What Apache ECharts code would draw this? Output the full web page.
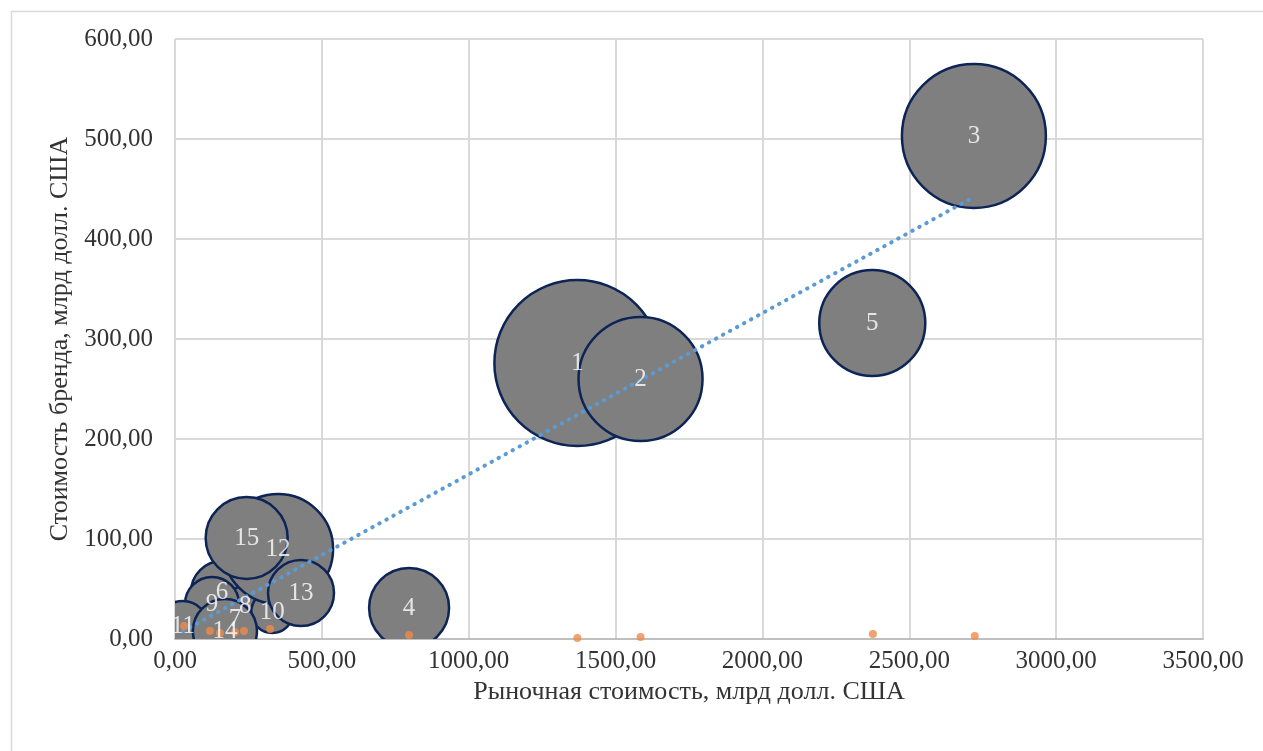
<!DOCTYPE html>
<html>
<head>
<meta charset="utf-8">
<script src="https://cdn.jsdelivr.net/npm/echarts@6/dist/echarts.min.js"></script>
<style>
html,body{margin:0;padding:0;background:#fff;}
#chart{width:1263px;height:751px;}
</style>
</head>
<body>
<div id="chart"></div>
<script>
// ---- Data ----
const bubbleNames = ['1','2','3','4','5','6','7','8','9','10','11','12','13','14','15'];
const marketValue = [1370, 1585, 2720, 797, 2374, 160, 204, 239, 126, 331, 27, 351, 429, 170, 244];
const brandValue  = [276, 260, 503, 31, 316, 47, 20, 33, 35, 27, 13, 90, 46, 8, 101];
const bubbleSize  = [100, 55.8, 75.2, 23.2, 40.8, 13.9, 7.0, 5.8, 10.6, 6.4, 9.1, 43.9, 15.8, 14.9, 24.4];

const orangeX = [31, 119, 153, 204, 235, 324, 797, 1370, 1585, 2376, 2723];
const orangeY = [13, 8, 6, 7, 8, 10, 4, 1, 2, 5, 3];

const trendX = [27, 2720];
const trendY = [7.7, 442];

const xTicks = {min: 0, max: 3500, interval: 500};
const yTicks = {min: 0, max: 600, interval: 100};
const xTitle = 'Рыночная стоимость, млрд долл. США';
const yTitle = 'Стоимость бренда, млрд долл. США';

// ---- Build chart ----
const FONT = "'Liberation Serif', 'Times New Roman', serif";
const TEXT_COLOR = '#333333';
const MAX_DIAM = 166;
const maxSize = Math.max.apply(null, bubbleSize);

const bubbleData = marketValue.map((x, i) => [x, brandValue[i], bubbleSize[i], bubbleNames[i]]);
const orangeData = orangeX.map((x, i) => [x, orangeY[i]]);
const trendData = trendX.map((x, i) => [x, trendY[i]]);

const fmt = v => Number(v).toFixed(2).replace('.', ',');

const chart = echarts.init(document.getElementById('chart'), null, {renderer: 'canvas'});
chart.setOption({
  animation: false,
  backgroundColor: '#ffffff',
  graphic: [{
    type: 'rect', left: 9, top: 9, z: -10, silent: true,
    shape: {width: 1320, height: 820},
    style: {fill: 'none', stroke: '#d9d9d9', lineWidth: 1.5}
  }],
  grid: {left: 175, right: 60, top: 39, bottom: 112, containLabel: false},
  xAxis: {
    type: 'value', min: xTicks.min, max: xTicks.max, interval: xTicks.interval,
    name: xTitle, nameLocation: 'middle', nameGap: 40,
    nameTextStyle: {fontFamily: FONT, fontSize: 26, color: TEXT_COLOR},
    axisLine: {show: true, lineStyle: {color: '#bfbfbf', width: 2}},
    axisTick: {show: false},
    axisLabel: {formatter: fmt, fontFamily: FONT, fontSize: 25, color: TEXT_COLOR, margin: 10},
    splitLine: {show: true, lineStyle: {color: '#d9d9d9', width: 2}}
  },
  yAxis: {
    type: 'value', min: yTicks.min, max: yTicks.max, interval: yTicks.interval,
    name: yTitle, nameLocation: 'middle', nameGap: 99,
    nameTextStyle: {fontFamily: FONT, fontSize: 26, color: TEXT_COLOR},
    axisLine: {show: false},
    axisTick: {show: false},
    axisLabel: {formatter: fmt, fontFamily: FONT, fontSize: 25, color: TEXT_COLOR, margin: 22},
    splitLine: {show: true, lineStyle: {color: '#d9d9d9', width: 2}}
  },
  series: [
    {
      type: 'custom',
      name: 'bubbles',
      clip: true,
      data: bubbleData,
      encode: {x: 0, y: 1},
      renderItem: function (params, api) {
        const c = api.coord([api.value(0), api.value(1)]);
        const r = MAX_DIAM * Math.sqrt(api.value(2) / maxSize) / 2;
        return {
          type: 'circle',
          shape: {cx: c[0], cy: c[1], r: r},
          style: {fill: '#7f7f7f', stroke: '#0d2456', lineWidth: 2.5}
        };
      }
    },
    {
      type: 'line',
      name: 'trend',
      data: trendData,
      showSymbol: false,
      symbol: 'none',
      lineStyle: {color: '#5b9bd5', width: 4, type: [0.5, 7.5], cap: 'round'},
      z: 3
    },
    {
      type: 'scatter',
      name: 'orange',
      data: orangeData,
      symbolSize: 8,
      itemStyle: {color: '#ee8b4a'},
      z: 4
    },
    {
      type: 'scatter',
      name: 'labels',
      data: bubbleData,
      symbolSize: 1,
      itemStyle: {color: 'rgba(0,0,0,0)'},
      label: {
        show: true, position: 'inside',
        formatter: p => p.data[3],
        fontFamily: FONT, fontSize: 25, color: '#ffffff'
      },
      z: 5
    }
  ]
});
</script>
</body>
</html>
